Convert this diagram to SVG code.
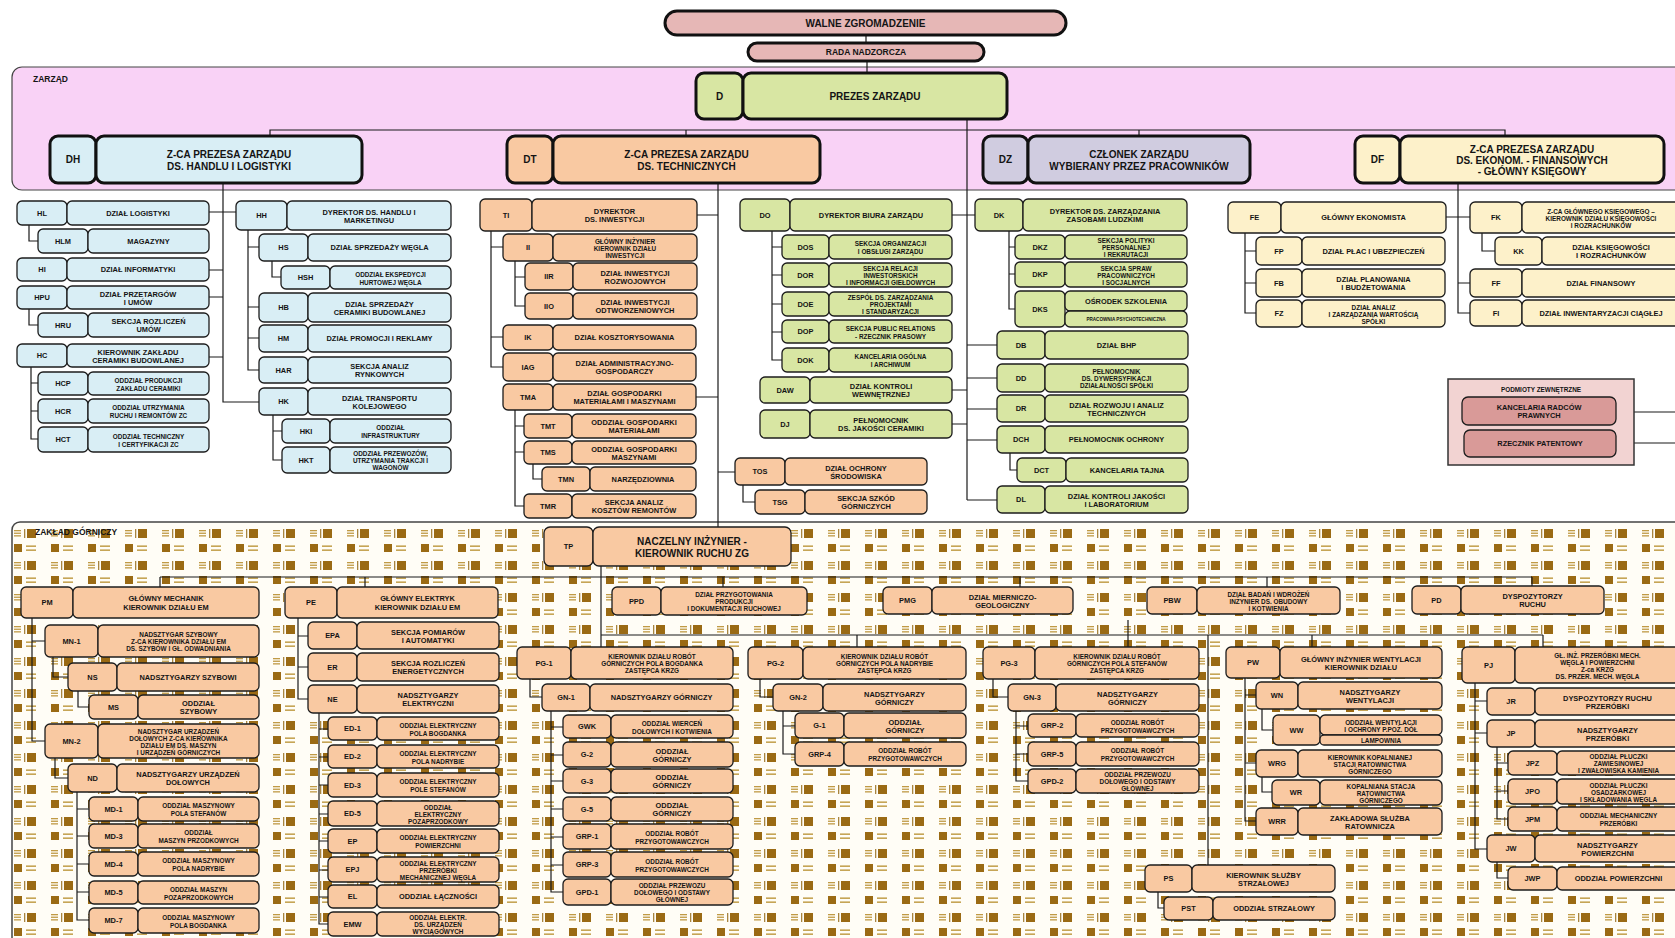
<svg xmlns="http://www.w3.org/2000/svg" width="1675" height="938" viewBox="0 0 1675 938">
<style>
.n rect{stroke:#1c1c1c;stroke-width:1.3}
.B rect{stroke:#111;stroke-width:3}
.cy rect{fill:#d9eef5}.or rect{fill:#f9c9a2}.gr rect{fill:#d8e6a3}.ye rect{fill:#fdf1ca}.vi rect{fill:#d0cce0}.ro rect{fill:#e6b7b6}
text{font-family:"Liberation Sans",Arial,sans-serif;font-weight:bold;fill:#141414;text-anchor:middle;dominant-baseline:central}
tspan{dominant-baseline:central}
.f7{font-size:7.4px}.f6{font-size:6.4px}.f8{font-size:8.5px}.f10{font-size:10px}.f5{font-size:4.6px}
.lft{text-anchor:start}
.c{fill:none;stroke:#1a1a1a;stroke-width:1.2}
</style>
<defs>
<pattern id="zg" patternUnits="userSpaceOnUse" x="12" y="526" width="37" height="32">
<rect width="37" height="32" fill="#fffdf6"/>
<g fill="#c09a45"><rect x="2" y="4" width="7" height="1.3"/><rect x="2" y="6.6" width="7" height="1.3"/><rect x="2" y="9.2" width="7" height="1.3"/></g>
<rect x="12" y="3" width="1.3" height="9" fill="#a88540"/>
<rect x="15" y="3" width="9" height="9" fill="#9a6a14"/>
<rect x="2" y="18" width="8" height="8" fill="#9a6a14"/>
<rect x="14" y="19.5" width="10" height="1.3" fill="#b8902f"/>
<rect x="14" y="23.5" width="10" height="1.3" fill="#b8902f"/>
</pattern>
</defs>
<rect x="12" y="67" width="1680" height="123" rx="10" fill="#f9d2f6" stroke="#444" stroke-width="1.2"/>
<text class="f8 lft" x="33" y="79">ZARZĄD</text>
<rect x="12" y="522" width="1680" height="440" rx="8" fill="url(#zg)" stroke="#444" stroke-width="1.5"/>
<text class="f8 lft" x="35" y="532">ZAKŁAD GÓRNICZY</text>

<g id="connectors" class="c">
<path d="M866,35V43M867,61V73"/>
<path d="M270,136V130H1505V136M686,130V136M1139,130V136"/>
<path d="M967,119V500"/>
<path d="M223,183V402H259M209,212H236M209,270H223M209,297H223M209,357H223"/>
<path d="M29,225V241H38M29,309V325H38M31,367V439H38M31,383H38M31,411H38"/>
<path d="M248,230V370H259M248,247H259M248,307H259M248,338H259M272,261V277H281M273,415V460H282M273,431H282"/>
<path d="M718,183V527M697,215H718M696,397H718M718,472H735"/>
<path d="M491,231V367H503M491,247H503M491,337H503M515,261V306H525M515,277H525M515,410V506H524M515,426H524M515,452H524M533,464V479H542M743,485V502H755"/>
<path d="M952,215H975M952,390H967M952,424H967M967,345H997M967,378H997M967,409H997M967,440H997M967,500H997"/>
<path d="M772,231V360H782M772,247H782M772,275H782M772,304H782M772,332H782M1009,231V309H1015M1009,247H1015M1009,274H1015M1010,453V470H1017"/>
<path d="M1458,183V313H1470M1446,217H1470M1458,283H1470M1245,233V313H1256M1245,251H1256M1245,283H1256M1482,233V251H1495"/>
<path d="M1616,412H1680M1616,443H1680"/>
<path d="M601,566V647M160,577H1532M160,577V587M365,577V587M723,577V587M1020,577V587M1267,577V587M1532,577V587M601,635H1543M857,635V647M1128,620V647M1208,635V865M1312,635V647M1543,635V647"/>
<path d="M32,618V741H45M32,641H45M53,657V677H68M78,691V707H89M55,758V778H68M77,792V920H89M77,809H89M77,836H89M77,864H89M77,892H89"/>
<path d="M298,618V699H308M298,636H308M298,667H308M319,713V924H328M319,729H328M319,757H328M319,785H328M319,814H328M319,841H328M319,870H328M319,897H328"/>
<path d="M530,679V697H542M551,711V892H563M551,727H563M551,755H563M551,781H563M551,809H563M551,837H563M551,865H563M760,679V697H773M783,711V754H795M783,726H795M993,679V697H1008M1016,711V781H1028M1016,726H1028M1016,754H1028"/>
<path d="M1245,678V821H1256M1245,695H1256M1245,763H1256M1262,709V730H1273M1262,777V792H1272M1158,892V908H1164"/>
<path d="M1475,683V849H1487M1475,701H1487M1475,733H1487M1497,747V819H1508M1497,763H1508M1497,791H1508M1497,862V878H1508"/>
</g>

<!-- top level -->
<g id="WZ" class="B ro"><rect x="665" y="11" width="401" height="24" rx="12"/><text class="f10" x="865.5" y="23">WALNE ZGROMADZENIE</text></g>
<g id="RN" class="B ro"><rect x="748" y="43" width="236" height="18" rx="9"/><text class="f8" x="866" y="52">RADA NADZORCZA</text></g>
<g id="D" class="B gr"><rect x="696" y="73" width="47" height="46" rx="8"/><rect x="743" y="73" width="264" height="46" rx="8"/><text class="f10" x="719.5" y="96">D</text><text class="f10" x="875" y="96">PREZES ZARZĄDU</text></g>
<g id="DH" class="B cy"><rect x="50" y="136" width="46" height="47" rx="8"/><rect x="96" y="136" width="266" height="47" rx="8"/><text class="f10" x="73" y="159.5">DH</text><text class="f10"><tspan x="229" y="153.5">Z-CA PREZESA ZARZĄDU</tspan><tspan x="229" y="165.5">DS. HANDLU I LOGISTYKI</tspan></text></g>
<g id="DT" class="B or"><rect x="507" y="136" width="46" height="47" rx="8"/><rect x="553" y="136" width="267" height="47" rx="8"/><text class="f10" x="530" y="159.5">DT</text><text class="f10"><tspan x="686.5" y="153.5">Z-CA PREZESA ZARZĄDU</tspan><tspan x="686.5" y="165.5">DS. TECHNICZNYCH</tspan></text></g>
<g id="DZ" class="B vi"><rect x="983" y="136" width="45" height="47" rx="8"/><rect x="1028" y="136" width="222" height="47" rx="8"/><text class="f10" x="1005.5" y="159.5">DZ</text><text class="f10"><tspan x="1139" y="153.5">CZŁONEK ZARZĄDU</tspan><tspan x="1139" y="165.5">WYBIERANY PRZEZ PRACOWNIKÓW</tspan></text></g>
<g id="DF" class="B ye"><rect x="1355" y="136" width="45" height="47" rx="8"/><rect x="1400" y="136" width="264" height="47" rx="8"/><text class="f10" x="1377.5" y="159.5">DF</text><text class="f10"><tspan x="1532" y="148.5">Z-CA PREZESA ZARZĄDU</tspan><tspan x="1532" y="159.5">DS. EKONOM. - FINANSOWYCH</tspan><tspan x="1532" y="170.5">- GŁÓWNY KSIĘGOWY</tspan></text></g>

<!-- DH subtree -->
<g id="HL" class="n cy"><rect x="17" y="201" width="50" height="24" rx="5"/><rect x="67" y="201" width="142" height="24" rx="5"/><text class="f7" x="42" y="213">HL</text><text class="f7" x="138" y="213">DZIAŁ LOGISTYKI</text></g>
<g id="HLM" class="n cy"><rect x="38" y="229" width="50" height="24" rx="5"/><rect x="88" y="229" width="121" height="24" rx="5"/><text class="f7" x="63" y="241">HLM</text><text class="f7" x="148.5" y="241">MAGAZYNY</text></g>
<g id="HI" class="n cy"><rect x="17" y="258" width="50" height="23" rx="5"/><rect x="67" y="258" width="142" height="23" rx="5"/><text class="f7" x="42" y="269.5">HI</text><text class="f7" x="138" y="269.5">DZIAŁ INFORMATYKI</text></g>
<g id="HPU" class="n cy"><rect x="17" y="286" width="50" height="23" rx="5"/><rect x="67" y="286" width="142" height="23" rx="5"/><text class="f7" x="42" y="297.5">HPU</text><text class="f7"><tspan x="138" y="293.5">DZIAŁ PRZETARGÓW</tspan><tspan x="138" y="301.5">I UMÓW</tspan></text></g>
<g id="HRU" class="n cy"><rect x="38" y="313" width="50" height="24" rx="5"/><rect x="88" y="313" width="121" height="24" rx="5"/><text class="f7" x="63" y="325">HRU</text><text class="f7"><tspan x="148.5" y="321">SEKCJA ROZLICZEŃ</tspan><tspan x="148.5" y="329">UMÓW</tspan></text></g>
<g id="HC" class="n cy"><rect x="17" y="344" width="50" height="23" rx="5"/><rect x="67" y="344" width="142" height="23" rx="5"/><text class="f7" x="42" y="355.5">HC</text><text class="f7"><tspan x="138" y="351.5">KIEROWNIK ZAKŁADU</tspan><tspan x="138" y="359.5">CERAMIKI BUDOWLANEJ</tspan></text></g>
<g id="HCP" class="n cy"><rect x="38" y="372" width="50" height="23" rx="5"/><rect x="88" y="372" width="121" height="23" rx="5"/><text class="f7" x="63" y="383.5">HCP</text><text class="f6"><tspan x="148.5" y="379.5">ODDZIAŁ PRODUKCJI</tspan><tspan x="148.5" y="387.5">ZAKŁADU CERAMIKI</tspan></text></g>
<g id="HCR" class="n cy"><rect x="38" y="399" width="50" height="24" rx="5"/><rect x="88" y="399" width="121" height="24" rx="5"/><text class="f7" x="63" y="411">HCR</text><text class="f6"><tspan x="148.5" y="407">ODDZIAŁ UTRZYMANIA</tspan><tspan x="148.5" y="415">RUCHU I REMONTÓW ZC</tspan></text></g>
<g id="HCT" class="n cy"><rect x="38" y="427" width="50" height="25" rx="5"/><rect x="88" y="427" width="121" height="25" rx="5"/><text class="f7" x="63" y="439.5">HCT</text><text class="f6"><tspan x="148.5" y="435.5">ODDZIAŁ TECHNICZNY</tspan><tspan x="148.5" y="443.5">I CERTYFIKACJI ZC</tspan></text></g>
<g id="HH" class="n cy"><rect x="236" y="201" width="51" height="29" rx="5"/><rect x="287" y="201" width="164" height="29" rx="5"/><text class="f7" x="261.5" y="215.5">HH</text><text class="f7"><tspan x="369" y="211.5">DYREKTOR DS. HANDLU I</tspan><tspan x="369" y="219.5">MARKETINGU</tspan></text></g>
<g id="HS" class="n cy"><rect x="259" y="234" width="49" height="27" rx="5"/><rect x="308" y="234" width="143" height="27" rx="5"/><text class="f7" x="283.5" y="247.5">HS</text><text class="f7" x="379.5" y="247.5">DZIAŁ SPRZEDAŻY WĘGLA</text></g>
<g id="HSH" class="n cy"><rect x="281" y="266" width="49" height="23" rx="5"/><rect x="330" y="266" width="121" height="23" rx="5"/><text class="f7" x="305.5" y="277.5">HSH</text><text class="f6"><tspan x="390.5" y="273.5">ODDZIAŁ EKSPEDYCJI</tspan><tspan x="390.5" y="281.5">HURTOWEJ WĘGLA</tspan></text></g>
<g id="HB" class="n cy"><rect x="259" y="293" width="49" height="29" rx="5"/><rect x="308" y="293" width="143" height="29" rx="5"/><text class="f7" x="283.5" y="307.5">HB</text><text class="f7"><tspan x="379.5" y="303.5">DZIAŁ SPRZEDAŻY</tspan><tspan x="379.5" y="311.5">CERAMIKI BUDOWLANEJ</tspan></text></g>
<g id="HM" class="n cy"><rect x="259" y="325" width="49" height="27" rx="5"/><rect x="308" y="325" width="143" height="27" rx="5"/><text class="f7" x="283.5" y="338.5">HM</text><text class="f7" x="379.5" y="338.5">DZIAŁ PROMOCJI I REKLAMY</text></g>
<g id="HAR" class="n cy"><rect x="259" y="357" width="49" height="26" rx="5"/><rect x="308" y="357" width="143" height="26" rx="5"/><text class="f7" x="283.5" y="370">HAR</text><text class="f7"><tspan x="379.5" y="366">SEKCJA ANALIZ</tspan><tspan x="379.5" y="374">RYNKOWYCH</tspan></text></g>
<g id="HK" class="n cy"><rect x="259" y="388" width="49" height="27" rx="5"/><rect x="308" y="388" width="143" height="27" rx="5"/><text class="f7" x="283.5" y="401.5">HK</text><text class="f7"><tspan x="379.5" y="397.5">DZIAŁ TRANSPORTU</tspan><tspan x="379.5" y="405.5">KOLEJOWEGO</tspan></text></g>
<g id="HKI" class="n cy"><rect x="282" y="419" width="48" height="24" rx="5"/><rect x="330" y="419" width="121" height="24" rx="5"/><text class="f7" x="306" y="431">HKI</text><text class="f6"><tspan x="390.5" y="427">ODDZIAŁ</tspan><tspan x="390.5" y="435">INFRASTRUKTURY</tspan></text></g>
<g id="HKT" class="n cy"><rect x="282" y="447" width="48" height="26" rx="5"/><rect x="330" y="447" width="121" height="26" rx="5"/><text class="f7" x="306" y="460">HKT</text><text class="f6"><tspan x="390.5" y="453">ODDZIAŁ PRZEWOZÓW,</tspan><tspan x="390.5" y="460">UTRZYMANIA TRAKCJI I</tspan><tspan x="390.5" y="467">WAGONÓW</tspan></text></g>

<!-- DT subtree -->
<g id="TI" class="n or"><rect x="480" y="199" width="52" height="32" rx="5"/><rect x="532" y="199" width="165" height="32" rx="5"/><text class="f7" x="506" y="215">TI</text><text class="f7"><tspan x="614.5" y="211">DYREKTOR</tspan><tspan x="614.5" y="219">DS. INWESTYCJI</tspan></text></g>
<g id="II" class="n or"><rect x="503" y="234" width="50" height="27" rx="5"/><rect x="553" y="234" width="144" height="27" rx="5"/><text class="f7" x="528" y="247.5">II</text><text class="f6"><tspan x="625" y="240.5">GŁÓWNY INŻYNIER</tspan><tspan x="625" y="247.5">KIEROWNIK DZIAŁU</tspan><tspan x="625" y="254.5">INWESTYCJI</tspan></text></g>
<g id="IIR" class="n or"><rect x="525" y="263" width="48" height="27" rx="5"/><rect x="573" y="263" width="124" height="27" rx="5"/><text class="f7" x="549" y="276.5">IIR</text><text class="f7"><tspan x="635" y="272.5">DZIAŁ INWESTYCJI</tspan><tspan x="635" y="280.5">ROZWOJOWYCH</tspan></text></g>
<g id="IIO" class="n or"><rect x="525" y="293" width="48" height="26" rx="5"/><rect x="573" y="293" width="124" height="26" rx="5"/><text class="f7" x="549" y="306">IIO</text><text class="f7"><tspan x="635" y="302">DZIAŁ INWESTYCJI</tspan><tspan x="635" y="310">ODTWORZENIOWYCH</tspan></text></g>
<g id="IK" class="n or"><rect x="503" y="325" width="50" height="25" rx="5"/><rect x="553" y="325" width="143" height="25" rx="5"/><text class="f7" x="528" y="337.5">IK</text><text class="f7" x="624.5" y="337.5">DZIAŁ KOSZTORYSOWANIA</text></g>
<g id="IAG" class="n or"><rect x="503" y="353" width="50" height="28" rx="5"/><rect x="553" y="353" width="143" height="28" rx="5"/><text class="f7" x="528" y="367">IAG</text><text class="f7"><tspan x="624.5" y="363">DZIAŁ ADMINISTRACYJNO-</tspan><tspan x="624.5" y="371">GOSPODARCZY</tspan></text></g>
<g id="TMA" class="n or"><rect x="503" y="384" width="50" height="26" rx="5"/><rect x="553" y="384" width="143" height="26" rx="5"/><text class="f7" x="528" y="397">TMA</text><text class="f7"><tspan x="624.5" y="393">DZIAŁ GOSPODARKI</tspan><tspan x="624.5" y="401">MATERIAŁAMI I MASZYNAMI</tspan></text></g>
<g id="TMT" class="n or"><rect x="524" y="414" width="48" height="24" rx="5"/><rect x="572" y="414" width="124" height="24" rx="5"/><text class="f7" x="548" y="426">TMT</text><text class="f7"><tspan x="634" y="422">ODDZIAŁ GOSPODARKI</tspan><tspan x="634" y="430">MATERIAŁAMI</tspan></text></g>
<g id="TMS" class="n or"><rect x="524" y="441" width="48" height="23" rx="5"/><rect x="572" y="441" width="124" height="23" rx="5"/><text class="f7" x="548" y="452.5">TMS</text><text class="f7"><tspan x="634" y="448.5">ODDZIAŁ GOSPODARKI</tspan><tspan x="634" y="456.5">MASZYNAMI</tspan></text></g>
<g id="TMN" class="n or"><rect x="542" y="467" width="48" height="24" rx="5"/><rect x="590" y="467" width="106" height="24" rx="5"/><text class="f7" x="566" y="479">TMN</text><text class="f7" x="643" y="479">NARZĘDZIOWNIA</text></g>
<g id="TMR" class="n or"><rect x="524" y="494" width="48" height="24" rx="5"/><rect x="572" y="494" width="124" height="24" rx="5"/><text class="f7" x="548" y="506">TMR</text><text class="f7"><tspan x="634" y="502">SEKCJA ANALIZ</tspan><tspan x="634" y="510">KOSZTÓW REMONTÓW</tspan></text></g>
<g id="TOS" class="n or"><rect x="735" y="458" width="50" height="27" rx="5"/><rect x="785" y="458" width="142" height="27" rx="5"/><text class="f7" x="760" y="471.5">TOS</text><text class="f7"><tspan x="856" y="467.5">DZIAŁ OCHRONY</tspan><tspan x="856" y="475.5">ŚRODOWISKA</tspan></text></g>
<g id="TSG" class="n or"><rect x="755" y="490" width="50" height="24" rx="5"/><rect x="805" y="490" width="122" height="24" rx="5"/><text class="f7" x="780" y="502">TSG</text><text class="f7"><tspan x="866" y="498">SEKCJA SZKÓD</tspan><tspan x="866" y="506">GÓRNICZYCH</tspan></text></g>

<!-- DO / DK subtree -->
<g id="DO" class="n gr"><rect x="740" y="199" width="50" height="32" rx="5"/><rect x="790" y="199" width="162" height="32" rx="5"/><text class="f7" x="765" y="215">DO</text><text class="f7" x="871" y="215">DYREKTOR BIURA ZARZĄDU</text></g>
<g id="DOS" class="n gr"><rect x="782" y="235" width="47" height="24" rx="5"/><rect x="829" y="235" width="123" height="24" rx="5"/><text class="f7" x="805.5" y="247">DOS</text><text class="f6"><tspan x="890.5" y="243">SEKCJA ORGANIZACJI</tspan><tspan x="890.5" y="251">I OBSŁUGI ZARZĄDU</tspan></text></g>
<g id="DOR" class="n gr"><rect x="782" y="263" width="47" height="24" rx="5"/><rect x="829" y="263" width="123" height="24" rx="5"/><text class="f7" x="805.5" y="275">DOR</text><text class="f6"><tspan x="890.5" y="268">SEKCJA RELACJI</tspan><tspan x="890.5" y="275">INWESTORSKICH</tspan><tspan x="890.5" y="282">I INFORMACJI GIEŁDOWYCH</tspan></text></g>
<g id="DOE" class="n gr"><rect x="782" y="292" width="47" height="24" rx="5"/><rect x="829" y="292" width="123" height="24" rx="5"/><text class="f7" x="805.5" y="304">DOE</text><text class="f6"><tspan x="890.5" y="297">ZESPÓŁ DS. ZARZĄDZANIA</tspan><tspan x="890.5" y="304">PROJEKTAMI</tspan><tspan x="890.5" y="311">I STANDARYZACJI</tspan></text></g>
<g id="DOP" class="n gr"><rect x="782" y="320" width="47" height="23" rx="5"/><rect x="829" y="320" width="123" height="23" rx="5"/><text class="f7" x="805.5" y="331.5">DOP</text><text class="f6"><tspan x="890.5" y="327.5">SEKCJA PUBLIC RELATIONS</tspan><tspan x="890.5" y="335.5">- RZECZNIK PRASOWY</tspan></text></g>
<g id="DOK" class="n gr"><rect x="782" y="348" width="47" height="24" rx="5"/><rect x="829" y="348" width="123" height="24" rx="5"/><text class="f7" x="805.5" y="360">DOK</text><text class="f6"><tspan x="890.5" y="356">KANCELARIA OGÓLNA</tspan><tspan x="890.5" y="364">I ARCHIWUM</tspan></text></g>
<g id="DAW" class="n gr"><rect x="760" y="377" width="50" height="26" rx="5"/><rect x="810" y="377" width="142" height="26" rx="5"/><text class="f7" x="785" y="390">DAW</text><text class="f7"><tspan x="881" y="386">DZIAŁ KONTROLI</tspan><tspan x="881" y="394">WEWNĘTRZNEJ</tspan></text></g>
<g id="DJ" class="n gr"><rect x="760" y="410" width="50" height="28" rx="5"/><rect x="810" y="410" width="142" height="28" rx="5"/><text class="f7" x="785" y="424">DJ</text><text class="f7"><tspan x="881" y="420">PEŁNOMOCNIK</tspan><tspan x="881" y="428">DS. JAKOŚCI CERAMIKI</tspan></text></g>
<g id="DK" class="n gr"><rect x="975" y="199" width="48" height="32" rx="5"/><rect x="1023" y="199" width="164" height="32" rx="5"/><text class="f7" x="999" y="215">DK</text><text class="f7"><tspan x="1105" y="211">DYREKTOR DS. ZARZĄDZANIA</tspan><tspan x="1105" y="219">ZASOBAMI LUDZKIMI</tspan></text></g>
<g id="DKZ" class="n gr"><rect x="1015" y="235" width="50" height="24" rx="5"/><rect x="1065" y="235" width="122" height="24" rx="5"/><text class="f7" x="1040" y="247">DKZ</text><text class="f6"><tspan x="1126" y="240">SEKCJA POLITYKI</tspan><tspan x="1126" y="247">PERSONALNEJ</tspan><tspan x="1126" y="254">I REKRUTACJI</tspan></text></g>
<g id="DKP" class="n gr"><rect x="1015" y="262" width="50" height="25" rx="5"/><rect x="1065" y="262" width="122" height="25" rx="5"/><text class="f7" x="1040" y="274.5">DKP</text><text class="f6"><tspan x="1126" y="267.5">SEKCJA SPRAW</tspan><tspan x="1126" y="274.5">PRACOWNICZYCH</tspan><tspan x="1126" y="281.5">I SOCJALNYCH</tspan></text></g>
<g id="DKS" class="n gr"><rect x="1015" y="291" width="50" height="36" rx="5"/><rect x="1065" y="291" width="122" height="20" rx="5"/><rect x="1065" y="311" width="122" height="16" rx="5"/><text class="f7" x="1040" y="309">DKS</text><text class="f7" x="1126" y="301">OŚRODEK SZKOLENIA</text><text class="f5" x="1126" y="319">PRACOWNIA PSYCHOTECHNICZNA</text></g>
<g id="DB" class="n gr"><rect x="997" y="331" width="48" height="28" rx="5"/><rect x="1045" y="331" width="143" height="28" rx="5"/><text class="f7" x="1021" y="345">DB</text><text class="f7" x="1116.5" y="345">DZIAŁ BHP</text></g>
<g id="DD" class="n gr"><rect x="997" y="364" width="48" height="28" rx="5"/><rect x="1045" y="364" width="143" height="28" rx="5"/><text class="f7" x="1021" y="378">DD</text><text class="f6"><tspan x="1116.5" y="371">PEŁNOMOCNIK</tspan><tspan x="1116.5" y="378">DS. DYWERSYFIKACJI</tspan><tspan x="1116.5" y="385">DZIAŁALNOŚCI SPÓŁKI</tspan></text></g>
<g id="DR" class="n gr"><rect x="997" y="395" width="48" height="27" rx="5"/><rect x="1045" y="395" width="143" height="27" rx="5"/><text class="f7" x="1021" y="408.5">DR</text><text class="f7"><tspan x="1116.5" y="404.5">DZIAŁ ROZWOJU I ANALIZ</tspan><tspan x="1116.5" y="412.5">TECHNICZNYCH</tspan></text></g>
<g id="DCH" class="n gr"><rect x="997" y="426" width="48" height="27" rx="5"/><rect x="1045" y="426" width="143" height="27" rx="5"/><text class="f7" x="1021" y="439.5">DCH</text><text class="f7" x="1116.5" y="439.5">PEŁNOMOCNIK OCHRONY</text></g>
<g id="DCT" class="n gr"><rect x="1017" y="458" width="49" height="24" rx="5"/><rect x="1066" y="458" width="122" height="24" rx="5"/><text class="f7" x="1041.5" y="470">DCT</text><text class="f7" x="1127" y="470">KANCELARIA TAJNA</text></g>
<g id="DL" class="n gr"><rect x="997" y="486" width="48" height="27" rx="5"/><rect x="1045" y="486" width="143" height="27" rx="5"/><text class="f7" x="1021" y="499.5">DL</text><text class="f7"><tspan x="1116.5" y="495.5">DZIAŁ KONTROLI JAKOŚCI</tspan><tspan x="1116.5" y="503.5">I LABORATORIUM</tspan></text></g>

<!-- DF subtree -->
<g id="FE" class="n ye"><rect x="1228" y="202" width="53" height="31" rx="5"/><rect x="1281" y="202" width="165" height="31" rx="5"/><text class="f7" x="1254.5" y="217.5">FE</text><text class="f7" x="1363.5" y="217.5">GŁÓWNY EKONOMISTA</text></g>
<g id="FP" class="n ye"><rect x="1256" y="237" width="46" height="28" rx="5"/><rect x="1302" y="237" width="143" height="28" rx="5"/><text class="f7" x="1279" y="251">FP</text><text class="f7" x="1373.5" y="251">DZIAŁ PŁAC I UBEZPIECZEŃ</text></g>
<g id="FB" class="n ye"><rect x="1256" y="269" width="46" height="28" rx="5"/><rect x="1302" y="269" width="143" height="28" rx="5"/><text class="f7" x="1279" y="283">FB</text><text class="f7"><tspan x="1373.5" y="279">DZIAŁ PLANOWANIA</tspan><tspan x="1373.5" y="287">I BUDŻETOWANIA</tspan></text></g>
<g id="FZ" class="n ye"><rect x="1256" y="300" width="46" height="27" rx="5"/><rect x="1302" y="300" width="143" height="27" rx="5"/><text class="f7" x="1279" y="313.5">FZ</text><text class="f6"><tspan x="1373.5" y="306.5">DZIAŁ ANALIZ</tspan><tspan x="1373.5" y="313.5">I ZARZĄDZANIA WARTOŚCIĄ</tspan><tspan x="1373.5" y="320.5">SPÓŁKI</tspan></text></g>
<g id="FK" class="n ye"><rect x="1470" y="202" width="52" height="31" rx="5"/><rect x="1522" y="202" width="158" height="31" rx="5"/><text class="f7" x="1496" y="217.5">FK</text><text class="f6"><tspan x="1601" y="210.5">Z-CA GŁÓWNEGO KSIĘGOWEGO –</tspan><tspan x="1601" y="217.5">KIEROWNIK DZIAŁU KSIĘGOWOŚCI</tspan><tspan x="1601" y="224.5">I ROZRACHUNKÓW</tspan></text></g>
<g id="KK" class="n ye"><rect x="1495" y="237" width="47" height="28" rx="5"/><rect x="1542" y="237" width="138" height="28" rx="5"/><text class="f7" x="1518.5" y="251">KK</text><text class="f7"><tspan x="1611" y="247">DZIAŁ KSIĘGOWOŚCI</tspan><tspan x="1611" y="255">I ROZRACHUNKÓW</tspan></text></g>
<g id="FF" class="n ye"><rect x="1470" y="269" width="52" height="28" rx="5"/><rect x="1522" y="269" width="158" height="28" rx="5"/><text class="f7" x="1496" y="283">FF</text><text class="f7" x="1601" y="283">DZIAŁ FINANSOWY</text></g>
<g id="FI" class="n ye"><rect x="1470" y="300" width="52" height="26" rx="5"/><rect x="1522" y="300" width="158" height="26" rx="5"/><text class="f7" x="1496" y="313">FI</text><text class="f7" x="1601" y="313">DZIAŁ INWENTARYZACJI CIĄGŁEJ</text></g>

<!-- external -->
<g id="PZ"><rect x="1448" y="379" width="186" height="86" fill="#f2d3d2" stroke="#333" stroke-width="1.5"/><text class="f6" x="1541" y="389">PODMIOTY ZEWNĘTRZNE</text></g>
<g id="KRP" class="n ro"><rect x="1462" y="397" width="154" height="28" rx="6" style="fill:#d99a98"/><text class="f7"><tspan x="1539" y="407">KANCELARIA RADCÓW</tspan><tspan x="1539" y="415">PRAWNYCH</tspan></text></g>
<g id="RP" class="n ro"><rect x="1464" y="430" width="152" height="27" rx="6" style="fill:#d99a98"/><text class="f7" x="1540" y="443.5">RZECZNIK PATENTOWY</text></g>

<!-- ZG -->
<g id="TP" class="n or"><rect x="544" y="527" width="49" height="39" rx="6"/><rect x="593" y="527" width="198" height="39" rx="6"/><text class="f7" x="568.5" y="546.5">TP</text><text class="f10"><tspan x="692" y="540.5">NACZELNY INŻYNIER -</tspan><tspan x="692" y="552.5">KIEROWNIK RUCHU ZG</tspan></text></g>
<g id="PM" class="n or"><rect x="21" y="587" width="52" height="31" rx="5"/><rect x="73" y="587" width="186" height="31" rx="5"/><text class="f7" x="47" y="602.5">PM</text><text class="f7"><tspan x="166" y="598">GŁÓWNY MECHANIK</tspan><tspan x="166" y="607">KIEROWNIK DZIAŁU EM</tspan></text></g>
<g id="PE" class="n or"><rect x="285" y="587" width="52" height="31" rx="5"/><rect x="337" y="587" width="161" height="31" rx="5"/><text class="f7" x="311" y="602.5">PE</text><text class="f7"><tspan x="417.5" y="598">GŁÓWNY ELEKTRYK</tspan><tspan x="417.5" y="607">KIEROWNIK DZIAŁU EM</tspan></text></g>
<g id="PPD" class="n or"><rect x="612" y="587" width="49" height="28" rx="5"/><rect x="661" y="587" width="146" height="28" rx="5"/><text class="f7" x="636.5" y="601">PPD</text><text class="f6"><tspan x="734" y="594">DZIAŁ PRZYGOTOWANIA</tspan><tspan x="734" y="601">PRODUKCJI</tspan><tspan x="734" y="608">I DOKUMENTACJI RUCHOWEJ</tspan></text></g>
<g id="PMG" class="n or"><rect x="883" y="587" width="49" height="27" rx="5"/><rect x="932" y="587" width="141" height="27" rx="5"/><text class="f7" x="907.5" y="600.5">PMG</text><text class="f7"><tspan x="1002.5" y="596.5">DZIAŁ MIERNICZO-</tspan><tspan x="1002.5" y="604.5">GEOLOGICZNY</tspan></text></g>
<g id="PBW" class="n or"><rect x="1147" y="587" width="50" height="27" rx="5"/><rect x="1197" y="587" width="143" height="27" rx="5"/><text class="f7" x="1172" y="600.5">PBW</text><text class="f6"><tspan x="1268.5" y="593.5">DZIAŁ BADAŃ I WDROŻEŃ</tspan><tspan x="1268.5" y="600.5">INŻYNIER DS. OBUDOWY</tspan><tspan x="1268.5" y="607.5">I KOTWIENIA</tspan></text></g>
<g id="PD" class="n or"><rect x="1412" y="586" width="49" height="28" rx="5"/><rect x="1461" y="586" width="143" height="28" rx="5"/><text class="f7" x="1436.5" y="600">PD</text><text class="f7"><tspan x="1532.5" y="596">DYSPOZYTORZY</tspan><tspan x="1532.5" y="604">RUCHU</tspan></text></g>

<g id="MN-1" class="n or"><rect x="45" y="625" width="53" height="32" rx="5"/><rect x="98" y="625" width="161" height="32" rx="5"/><text class="f7" x="71.5" y="641">MN-1</text><text class="f6"><tspan x="178.5" y="634">NADSZTYGAR SZYBOWY</tspan><tspan x="178.5" y="641">Z-CA KIEROWNIKA DZIAŁU EM</tspan><tspan x="178.5" y="648">DS. SZYBÓW I GŁ. ODWADNIANIA</tspan></text></g>
<g id="NS" class="n or"><rect x="68" y="663" width="49" height="28" rx="5"/><rect x="117" y="663" width="142" height="28" rx="5"/><text class="f7" x="92.5" y="677">NS</text><text class="f7" x="188" y="677">NADSZTYGARZY SZYBOWI</text></g>
<g id="MS" class="n or"><rect x="89" y="695" width="49" height="24" rx="5"/><rect x="138" y="695" width="121" height="24" rx="5"/><text class="f7" x="113.5" y="707">MS</text><text class="f7"><tspan x="198.5" y="703">ODDZIAŁ</tspan><tspan x="198.5" y="711">SZYBOWY</tspan></text></g>
<g id="MN-2" class="n or"><rect x="45" y="724" width="53" height="34" rx="5"/><rect x="98" y="724" width="161" height="34" rx="5"/><text class="f7" x="71.5" y="741">MN-2</text><text class="f6"><tspan x="178.5" y="730.5">NADSZTYGAR URZĄDZEŃ</tspan><tspan x="178.5" y="737.5">DOŁOWYCH Z-CA KIEROWNIKA</tspan><tspan x="178.5" y="744.5">DZIAŁU EM DS. MASZYN</tspan><tspan x="178.5" y="751.5">I URZĄDZEŃ GÓRNICZYCH</tspan></text></g>
<g id="ND" class="n or"><rect x="68" y="764" width="49" height="28" rx="5"/><rect x="117" y="764" width="142" height="28" rx="5"/><text class="f7" x="92.5" y="778">ND</text><text class="f7"><tspan x="188" y="774">NADSZTYGARZY URZĄDZEŃ</tspan><tspan x="188" y="782">DOŁOWYCH</tspan></text></g>
<g id="MD-1" class="n or"><rect x="89" y="797" width="49" height="24" rx="5"/><rect x="138" y="797" width="121" height="24" rx="5"/><text class="f7" x="113.5" y="809">MD-1</text><text class="f6"><tspan x="198.5" y="805">ODDZIAŁ MASZYNOWY</tspan><tspan x="198.5" y="813">POLA STEFANÓW</tspan></text></g>
<g id="MD-3" class="n or"><rect x="89" y="824" width="49" height="24" rx="5"/><rect x="138" y="824" width="121" height="24" rx="5"/><text class="f7" x="113.5" y="836">MD-3</text><text class="f6"><tspan x="198.5" y="832">ODDZIAŁ</tspan><tspan x="198.5" y="840">MASZYN PRZODKOWYCH</tspan></text></g>
<g id="MD-4" class="n or"><rect x="89" y="852" width="49" height="24" rx="5"/><rect x="138" y="852" width="121" height="24" rx="5"/><text class="f7" x="113.5" y="864">MD-4</text><text class="f6"><tspan x="198.5" y="860">ODDZIAŁ MASZYNOWY</tspan><tspan x="198.5" y="868">POLA NADRYBIE</tspan></text></g>
<g id="MD-5" class="n or"><rect x="89" y="881" width="49" height="23" rx="5"/><rect x="138" y="881" width="121" height="23" rx="5"/><text class="f7" x="113.5" y="892.5">MD-5</text><text class="f6"><tspan x="198.5" y="888.5">ODDZIAŁ MASZYN</tspan><tspan x="198.5" y="896.5">POZAPRZODKOWYCH</tspan></text></g>
<g id="MD-7" class="n or"><rect x="89" y="908" width="49" height="25" rx="5"/><rect x="138" y="908" width="121" height="25" rx="5"/><text class="f7" x="113.5" y="920.5">MD-7</text><text class="f6"><tspan x="198.5" y="916.5">ODDZIAŁ MASZYNOWY</tspan><tspan x="198.5" y="924.5">POLA BOGDANKA</tspan></text></g>

<g id="EPA" class="n or"><rect x="308" y="622" width="49" height="27" rx="5"/><rect x="357" y="622" width="142" height="27" rx="5"/><text class="f7" x="332.5" y="635.5">EPA</text><text class="f7"><tspan x="428" y="631.5">SEKCJA POMIARÓW</tspan><tspan x="428" y="639.5">I AUTOMATYKI</tspan></text></g>
<g id="ER" class="n or"><rect x="308" y="653" width="49" height="28" rx="5"/><rect x="357" y="653" width="142" height="28" rx="5"/><text class="f7" x="332.5" y="667">ER</text><text class="f7"><tspan x="428" y="663">SEKCJA ROZLICZEŃ</tspan><tspan x="428" y="671">ENERGETYCZNYCH</tspan></text></g>
<g id="NE" class="n or"><rect x="308" y="685" width="49" height="28" rx="5"/><rect x="357" y="685" width="142" height="28" rx="5"/><text class="f7" x="332.5" y="699">NE</text><text class="f7"><tspan x="428" y="695">NADSZTYGARZY</tspan><tspan x="428" y="703">ELEKTRYCZNI</tspan></text></g>
<g id="ED-1" class="n or"><rect x="328" y="717" width="49" height="23" rx="5"/><rect x="377" y="717" width="122" height="23" rx="5"/><text class="f7" x="352.5" y="728.5">ED-1</text><text class="f6"><tspan x="438" y="724.5">ODDZIAŁ ELEKTRYCZNY</tspan><tspan x="438" y="732.5">POLA BOGDANKA</tspan></text></g>
<g id="ED-2" class="n or"><rect x="328" y="745" width="49" height="23" rx="5"/><rect x="377" y="745" width="122" height="23" rx="5"/><text class="f7" x="352.5" y="756.5">ED-2</text><text class="f6"><tspan x="438" y="752.5">ODDZIAŁ ELEKTRYCZNY</tspan><tspan x="438" y="760.5">POLA NADRYBIE</tspan></text></g>
<g id="ED-3" class="n or"><rect x="328" y="773" width="49" height="24" rx="5"/><rect x="377" y="773" width="122" height="24" rx="5"/><text class="f7" x="352.5" y="785">ED-3</text><text class="f6"><tspan x="438" y="781">ODDZIAŁ ELEKTRYCZNY</tspan><tspan x="438" y="789">POLE STEFANÓW</tspan></text></g>
<g id="ED-5" class="n or"><rect x="328" y="801" width="49" height="25" rx="5"/><rect x="377" y="801" width="122" height="25" rx="5"/><text class="f7" x="352.5" y="813.5">ED-5</text><text class="f6"><tspan x="438" y="806.5">ODDZIAŁ</tspan><tspan x="438" y="813.5">ELEKTRYCZNY</tspan><tspan x="438" y="820.5">POZAPRZODKOWY</tspan></text></g>
<g id="EP" class="n or"><rect x="328" y="829" width="49" height="24" rx="5"/><rect x="377" y="829" width="122" height="24" rx="5"/><text class="f7" x="352.5" y="841">EP</text><text class="f6"><tspan x="438" y="837">ODDZIAŁ ELEKTRYCZNY</tspan><tspan x="438" y="845">POWIERZCHNI</tspan></text></g>
<g id="EPJ" class="n or"><rect x="328" y="857" width="49" height="25" rx="5"/><rect x="377" y="857" width="122" height="25" rx="5"/><text class="f7" x="352.5" y="869.5">EPJ</text><text class="f6"><tspan x="438" y="862.5">ODDZIAŁ ELEKTRYCZNY</tspan><tspan x="438" y="869.5">PRZERÓBKI</tspan><tspan x="438" y="876.5">MECHANICZNEJ WĘGLA</tspan></text></g>
<g id="EL" class="n or"><rect x="328" y="885" width="49" height="23" rx="5"/><rect x="377" y="885" width="122" height="23" rx="5"/><text class="f7" x="352.5" y="896.5">EL</text><text class="f7" x="438" y="896.5">ODDZIAŁ ŁĄCZNOŚCI</text></g>
<g id="EMW" class="n or"><rect x="328" y="912" width="49" height="24" rx="5"/><rect x="377" y="912" width="122" height="24" rx="5"/><text class="f7" x="352.5" y="924">EMW</text><text class="f6"><tspan x="438" y="917">ODDZIAŁ ELEKTR.</tspan><tspan x="438" y="924">DS. URZĄDZEŃ</tspan><tspan x="438" y="931">WYCIĄGOWYCH</tspan></text></g>

<g id="PG-1" class="n or"><rect x="517" y="647" width="54" height="32" rx="5"/><rect x="571" y="647" width="162" height="32" rx="5"/><text class="f7" x="544" y="663">PG-1</text><text class="f6"><tspan x="652" y="656">KIEROWNIK DZIAŁU ROBÓT</tspan><tspan x="652" y="663">GÓRNICZYCH POLA BOGDANKA</tspan><tspan x="652" y="670">ZASTĘPCA KRZG</tspan></text></g>
<g id="GN-1" class="n or"><rect x="542" y="684" width="48" height="27" rx="5"/><rect x="590" y="684" width="143" height="27" rx="5"/><text class="f7" x="566" y="697.5">GN-1</text><text class="f7" x="661.5" y="697.5">NADSZTYGARZY GÓRNICZY</text></g>
<g id="GWK" class="n or"><rect x="563" y="715" width="48" height="23" rx="5"/><rect x="611" y="715" width="122" height="23" rx="5"/><text class="f7" x="587" y="726.5">GWK</text><text class="f6"><tspan x="672" y="722.5">ODDZIAŁ WIERCEŃ</tspan><tspan x="672" y="730.5">DOŁOWYCH I KOTWIENIA</tspan></text></g>
<g id="G-2" class="n or"><rect x="563" y="742" width="48" height="25" rx="5"/><rect x="611" y="742" width="122" height="25" rx="5"/><text class="f7" x="587" y="754.5">G-2</text><text class="f7"><tspan x="672" y="750.5">ODDZIAŁ</tspan><tspan x="672" y="758.5">GÓRNICZY</tspan></text></g>
<g id="G-3" class="n or"><rect x="563" y="769" width="48" height="24" rx="5"/><rect x="611" y="769" width="122" height="24" rx="5"/><text class="f7" x="587" y="781">G-3</text><text class="f7"><tspan x="672" y="777">ODDZIAŁ</tspan><tspan x="672" y="785">GÓRNICZY</tspan></text></g>
<g id="G-5" class="n or"><rect x="563" y="797" width="48" height="24" rx="5"/><rect x="611" y="797" width="122" height="24" rx="5"/><text class="f7" x="587" y="809">G-5</text><text class="f7"><tspan x="672" y="805">ODDZIAŁ</tspan><tspan x="672" y="813">GÓRNICZY</tspan></text></g>
<g id="GRP-1" class="n or"><rect x="563" y="824" width="48" height="25" rx="5"/><rect x="611" y="824" width="122" height="25" rx="5"/><text class="f7" x="587" y="836.5">GRP-1</text><text class="f6"><tspan x="672" y="832.5">ODDZIAŁ ROBÓT</tspan><tspan x="672" y="840.5">PRZYGOTOWAWCZYCH</tspan></text></g>
<g id="GRP-3" class="n or"><rect x="563" y="852" width="48" height="25" rx="5"/><rect x="611" y="852" width="122" height="25" rx="5"/><text class="f7" x="587" y="864.5">GRP-3</text><text class="f6"><tspan x="672" y="860.5">ODDZIAŁ ROBÓT</tspan><tspan x="672" y="868.5">PRZYGOTOWAWCZYCH</tspan></text></g>
<g id="GPD-1" class="n or"><rect x="563" y="879" width="48" height="26" rx="5"/><rect x="611" y="879" width="122" height="26" rx="5"/><text class="f7" x="587" y="892">GPD-1</text><text class="f6"><tspan x="672" y="885">ODDZIAŁ PRZEWOZU</tspan><tspan x="672" y="892">DOŁOWEGO I ODSTAWY</tspan><tspan x="672" y="899">GŁÓWNEJ</tspan></text></g>

<g id="PG-2" class="n or"><rect x="748" y="647" width="55" height="32" rx="5"/><rect x="803" y="647" width="163" height="32" rx="5"/><text class="f7" x="775.5" y="663">PG-2</text><text class="f6"><tspan x="884.5" y="656">KIEROWNIK DZIAŁU ROBÓT</tspan><tspan x="884.5" y="663">GÓRNICZYCH POLA NADRYBIE</tspan><tspan x="884.5" y="670">ZASTĘPCA KRZG</tspan></text></g>
<g id="GN-2" class="n or"><rect x="773" y="684" width="50" height="27" rx="5"/><rect x="823" y="684" width="143" height="27" rx="5"/><text class="f7" x="798" y="697.5">GN-2</text><text class="f7"><tspan x="894.5" y="693.5">NADSZTYGARZY</tspan><tspan x="894.5" y="701.5">GÓRNICZY</tspan></text></g>
<g id="G-1" class="n or"><rect x="795" y="713" width="49" height="25" rx="5"/><rect x="844" y="713" width="122" height="25" rx="5"/><text class="f7" x="819.5" y="725.5">G-1</text><text class="f7"><tspan x="905" y="721.5">ODDZIAŁ</tspan><tspan x="905" y="729.5">GÓRNICZY</tspan></text></g>
<g id="GRP-4" class="n or"><rect x="795" y="742" width="49" height="24" rx="5"/><rect x="844" y="742" width="122" height="24" rx="5"/><text class="f7" x="819.5" y="754">GRP-4</text><text class="f6"><tspan x="905" y="750">ODDZIAŁ ROBÓT</tspan><tspan x="905" y="758">PRZYGOTOWAWCZYCH</tspan></text></g>

<g id="PG-3" class="n or"><rect x="983" y="647" width="52" height="32" rx="5"/><rect x="1035" y="647" width="164" height="32" rx="5"/><text class="f7" x="1009" y="663">PG-3</text><text class="f6"><tspan x="1117" y="656">KIEROWNIK DZIAŁU ROBÓT</tspan><tspan x="1117" y="663">GÓRNICZYCH POLA STEFANÓW</tspan><tspan x="1117" y="670">ZASTĘPCA KRZG</tspan></text></g>
<g id="GN-3" class="n or"><rect x="1008" y="684" width="48" height="27" rx="5"/><rect x="1056" y="684" width="143" height="27" rx="5"/><text class="f7" x="1032" y="697.5">GN-3</text><text class="f7"><tspan x="1127.5" y="693.5">NADSZTYGARZY</tspan><tspan x="1127.5" y="701.5">GÓRNICZY</tspan></text></g>
<g id="GRP-2" class="n or"><rect x="1028" y="714" width="48" height="23" rx="5"/><rect x="1076" y="714" width="123" height="23" rx="5"/><text class="f7" x="1052" y="725.5">GRP-2</text><text class="f6"><tspan x="1137.5" y="721.5">ODDZIAŁ ROBÓT</tspan><tspan x="1137.5" y="729.5">PRZYGOTOWAWCZYCH</tspan></text></g>
<g id="GRP-5" class="n or"><rect x="1028" y="742" width="48" height="24" rx="5"/><rect x="1076" y="742" width="123" height="24" rx="5"/><text class="f7" x="1052" y="754">GRP-5</text><text class="f6"><tspan x="1137.5" y="750">ODDZIAŁ ROBÓT</tspan><tspan x="1137.5" y="758">PRZYGOTOWAWCZYCH</tspan></text></g>
<g id="GPD-2" class="n or"><rect x="1028" y="769" width="48" height="24" rx="5"/><rect x="1076" y="769" width="123" height="24" rx="5"/><text class="f7" x="1052" y="781">GPD-2</text><text class="f6"><tspan x="1137.5" y="774">ODDZIAŁ PRZEWOZU</tspan><tspan x="1137.5" y="781">DOŁOWEGO I ODSTAWY</tspan><tspan x="1137.5" y="788">GŁÓWNEJ</tspan></text></g>

<g id="PW" class="n or"><rect x="1226" y="647" width="54" height="31" rx="5"/><rect x="1280" y="647" width="162" height="31" rx="5"/><text class="f7" x="1253" y="662.5">PW</text><text class="f7"><tspan x="1361" y="658.5">GŁÓWNY INŻYNIER WENTYLACJI</tspan><tspan x="1361" y="666.5">KIEROWNIK DZIAŁU</tspan></text></g>
<g id="WN" class="n or"><rect x="1256" y="682" width="42" height="27" rx="5"/><rect x="1298" y="682" width="144" height="27" rx="5"/><text class="f7" x="1277" y="695.5">WN</text><text class="f7"><tspan x="1370" y="691.5">NADSZTYGARZY</tspan><tspan x="1370" y="699.5">WENTYLACJI</tspan></text></g>
<g id="WW" class="n or"><rect x="1273" y="715" width="47" height="30" rx="5"/><rect x="1320" y="715" width="122" height="20" rx="5"/><rect x="1320" y="735" width="122" height="10" rx="4"/><text class="f7" x="1296.5" y="730">WW</text><text class="f6"><tspan x="1381" y="721.5">ODDZIAŁ WENTYLACJI</tspan><tspan x="1381" y="729">I OCHRONY P.POŻ. DÓŁ</tspan></text><text class="f6" x="1381" y="740">LAMPOWNIA</text></g>
<g id="WRG" class="n or"><rect x="1256" y="750" width="42" height="27" rx="5"/><rect x="1298" y="750" width="144" height="27" rx="5"/><text class="f7" x="1277" y="763.5">WRG</text><text class="f6"><tspan x="1370" y="756.5">KIEROWNIK KOPALNIANEJ</tspan><tspan x="1370" y="763.5">STACJI RATOWNICTWA</tspan><tspan x="1370" y="770.5">GÓRNICZEGO</tspan></text></g>
<g id="WR" class="n or"><rect x="1272" y="780" width="48" height="25" rx="5"/><rect x="1320" y="780" width="122" height="25" rx="5"/><text class="f7" x="1296" y="792.5">WR</text><text class="f6"><tspan x="1381" y="785.5">KOPALNIANA STACJA</tspan><tspan x="1381" y="792.5">RATOWNICTWA</tspan><tspan x="1381" y="799.5">GÓRNICZEGO</tspan></text></g>
<g id="WRR" class="n or"><rect x="1256" y="808" width="42" height="27" rx="5"/><rect x="1298" y="808" width="144" height="27" rx="5"/><text class="f7" x="1277" y="821.5">WRR</text><text class="f7"><tspan x="1370" y="817.5">ZAKŁADOWA SŁUŻBA</tspan><tspan x="1370" y="825.5">RATOWNICZA</tspan></text></g>
<g id="PS" class="n or"><rect x="1145" y="865" width="47" height="27" rx="5"/><rect x="1192" y="865" width="143" height="27" rx="5"/><text class="f7" x="1168.5" y="878.5">PS</text><text class="f7"><tspan x="1263.5" y="874.5">KIEROWNIK SŁUŻBY</tspan><tspan x="1263.5" y="882.5">STRZAŁOWEJ</tspan></text></g>
<g id="PST" class="n or"><rect x="1164" y="897" width="49" height="23" rx="5"/><rect x="1213" y="897" width="122" height="23" rx="5"/><text class="f7" x="1188.5" y="908.5">PST</text><text class="f7" x="1274" y="908.5">ODDZIAŁ STRZAŁOWY</text></g>

<g id="PJ" class="n or"><rect x="1462" y="647" width="53" height="36" rx="5"/><rect x="1515" y="647" width="165" height="36" rx="5"/><text class="f7" x="1488.5" y="665">PJ</text><text class="f6"><tspan x="1597.5" y="654.5">GŁ. INŻ. PRZERÓBKI MECH.</tspan><tspan x="1597.5" y="661.5">WĘGLA I POWIERZCHNI</tspan><tspan x="1597.5" y="668.5">Z-ca KRZG</tspan><tspan x="1597.5" y="675.5">DS. PRZER. MECH. WĘGLA</tspan></text></g>
<g id="JR" class="n or"><rect x="1487" y="688" width="48" height="27" rx="5"/><rect x="1535" y="688" width="145" height="27" rx="5"/><text class="f7" x="1511" y="701.5">JR</text><text class="f7"><tspan x="1607.5" y="697.5">DYSPOZYTORZY RUCHU</tspan><tspan x="1607.5" y="705.5">PRZERÓBKI</tspan></text></g>
<g id="JP" class="n or"><rect x="1487" y="720" width="48" height="27" rx="5"/><rect x="1535" y="720" width="145" height="27" rx="5"/><text class="f7" x="1511" y="733.5">JP</text><text class="f7"><tspan x="1607.5" y="729.5">NADSZTYGARZY</tspan><tspan x="1607.5" y="737.5">PRZERÓBKI</tspan></text></g>
<g id="JPZ" class="n or"><rect x="1508" y="751" width="49" height="24" rx="5"/><rect x="1557" y="751" width="123" height="24" rx="5"/><text class="f7" x="1532.5" y="763">JPZ</text><text class="f6"><tspan x="1618.5" y="756">ODDZIAŁ PŁUCZKI</tspan><tspan x="1618.5" y="763">ZAWIESINOWEJ</tspan><tspan x="1618.5" y="770">I ZWAŁOWISKA KAMIENIA</tspan></text></g>
<g id="JPO" class="n or"><rect x="1508" y="779" width="49" height="25" rx="5"/><rect x="1557" y="779" width="123" height="25" rx="5"/><text class="f7" x="1532.5" y="791.5">JPO</text><text class="f6"><tspan x="1618.5" y="784.5">ODDZIAŁ PŁUCZKI</tspan><tspan x="1618.5" y="791.5">OSADZARKOWEJ</tspan><tspan x="1618.5" y="798.5">I SKŁADOWANIA WĘGLA</tspan></text></g>
<g id="JPM" class="n or"><rect x="1508" y="807" width="49" height="24" rx="5"/><rect x="1557" y="807" width="123" height="24" rx="5"/><text class="f7" x="1532.5" y="819">JPM</text><text class="f6"><tspan x="1618.5" y="815">ODDZIAŁ MECHANICZNY</tspan><tspan x="1618.5" y="823">PRZERÓBKI</tspan></text></g>
<g id="JW" class="n or"><rect x="1487" y="835" width="48" height="27" rx="5"/><rect x="1535" y="835" width="145" height="27" rx="5"/><text class="f7" x="1511" y="848.5">JW</text><text class="f7"><tspan x="1607.5" y="844.5">NADSZTYGARZY</tspan><tspan x="1607.5" y="852.5">POWIERZCHNI</tspan></text></g>
<g id="JWP" class="n or"><rect x="1508" y="867" width="49" height="23" rx="5"/><rect x="1557" y="867" width="123" height="23" rx="5"/><text class="f7" x="1532.5" y="878.5">JWP</text><text class="f7" x="1618.5" y="878.5">ODDZIAŁ POWIERZCHNI</text></g>
</svg>
